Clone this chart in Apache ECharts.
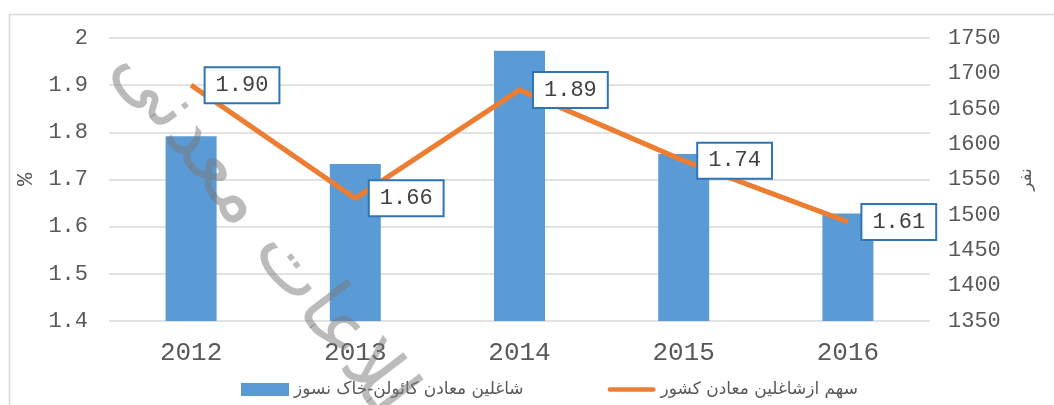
<!DOCTYPE html>
<html>
<head>
<meta charset="utf-8">
<script src="https://cdn.jsdelivr.net/npm/echarts@6/dist/echarts.min.js"></script>
<style>
  html, body { margin: 0; padding: 0; background: #fff; }
  #chart { width: 1054px; height: 405px; }
</style>
</head>
<body>
<div id="chart"></div>
<script>
const years = ['2012', '2013', '2014', '2015', '2016']
const workers = [1611, 1572, 1732, 1586, 1502]
const share = [1.90, 1.66, 1.89, 1.74, 1.61]
const barName = 'شاغلین معادن کائولن-خاک نسوز'
const lineName = 'سهم ازشاغلین معادن کشور'

const mono = '"Liberation Mono", "DejaVu Sans Mono", monospace'
const textGrey = '#595959'

const chart = echarts.init(document.getElementById('chart'))
chart.setOption({
  backgroundColor: '#fff',
  animation: false,
  grid: { left: 109, right: 124, top: 38, bottom: 84 },
  legend: {
    left: 236,
    top: 376,
    itemGap: 84,
    itemWidth: 48,
    itemHeight: 13,
    symbolKeepAspect: true,
    textStyle: { fontFamily: '"DejaVu Sans", sans-serif', fontSize: 17, color: textGrey },
    data: [
      { name: barName, icon: 'rect' },
      { name: lineName, icon: 'path://M2,0 L52,0 A2.5,2.5 0 0 1 52,5 L2,5 A2.5,2.5 0 0 1 2,0 Z' }
    ]
  },
  xAxis: {
    type: 'category',
    data: years,
    axisLine: { show: false },
    axisTick: { show: false },
    axisLabel: { fontFamily: mono, fontSize: 26, color: textGrey, margin: 19 }
  },
  yAxis: [
    {
      type: 'value',
      min: 1.4,
      max: 2,
      interval: 0.1,
      name: '%',
      nameLocation: 'middle',
      nameRotate: 90,
      nameGap: 67,
      nameTextStyle: { fontFamily: mono, fontSize: 22, color: textGrey },
      axisLine: { show: false },
      axisTick: { show: false },
      splitLine: { lineStyle: { color: '#d9d9d9', width: 1.5 } },
      axisLabel: {
        fontFamily: mono, fontSize: 22, color: textGrey, margin: 21,
        formatter: v => String(+v.toFixed(1))
      }
    },
    {
      type: 'value',
      min: 1350,
      max: 1750,
      interval: 50,
      name: 'نفر',
      nameLocation: 'middle',
      nameRotate: 90,
      nameGap: 88,
      nameTextStyle: { fontFamily: '"DejaVu Sans", sans-serif', fontSize: 17, color: textGrey },
      axisLine: { show: false },
      axisTick: { show: false },
      splitLine: { show: false },
      axisLabel: {
        fontFamily: mono, fontSize: 22, color: textGrey, margin: 18,
        formatter: v => String(v)
      }
    }
  ],
  series: [
    {
      name: barName,
      type: 'bar',
      yAxisIndex: 1,
      data: workers,
      barWidth: 51,
      itemStyle: { color: '#5b9bd5' }
    },
    {
      name: lineName,
      type: 'line',
      yAxisIndex: 0,
      data: share,
      symbol: 'circle',
      symbolSize: 1,
      lineStyle: { color: '#ed7d31', width: 5 },
      itemStyle: { color: '#ed7d31' },
      label: {
        show: true,
        position: 'right',
        distance: 14,
        fontFamily: mono,
        fontSize: 22,
        color: '#404040',
        backgroundColor: '#fff',
        borderColor: '#2e75b6',
        borderWidth: 2,
        padding: [6, 10, 6, 10],
        formatter: p => p.value.toFixed(2)
      }
    }
  ],
  graphic: [
    {
      type: 'rect',
      left: 7,
      top: 12,
      shape: { width: 1060, height: 400 },
      style: { fill: 'none', stroke: '#d9d9d9', lineWidth: 1.5 },
      silent: true
    },
    {
      type: 'text',
      x: 280,
      y: 255,
      rotation: -0.92,
      z: 100,
      style: {
        text: 'اطلاعات معدنی',
        fontFamily: '"DejaVu Sans", sans-serif',
        fontSize: 78,
        fill: 'rgba(120,120,120,0.5)',
        align: 'center',
        verticalAlign: 'middle'
      },
      silent: true
    }
  ]
})
</script>
</body>
</html>
